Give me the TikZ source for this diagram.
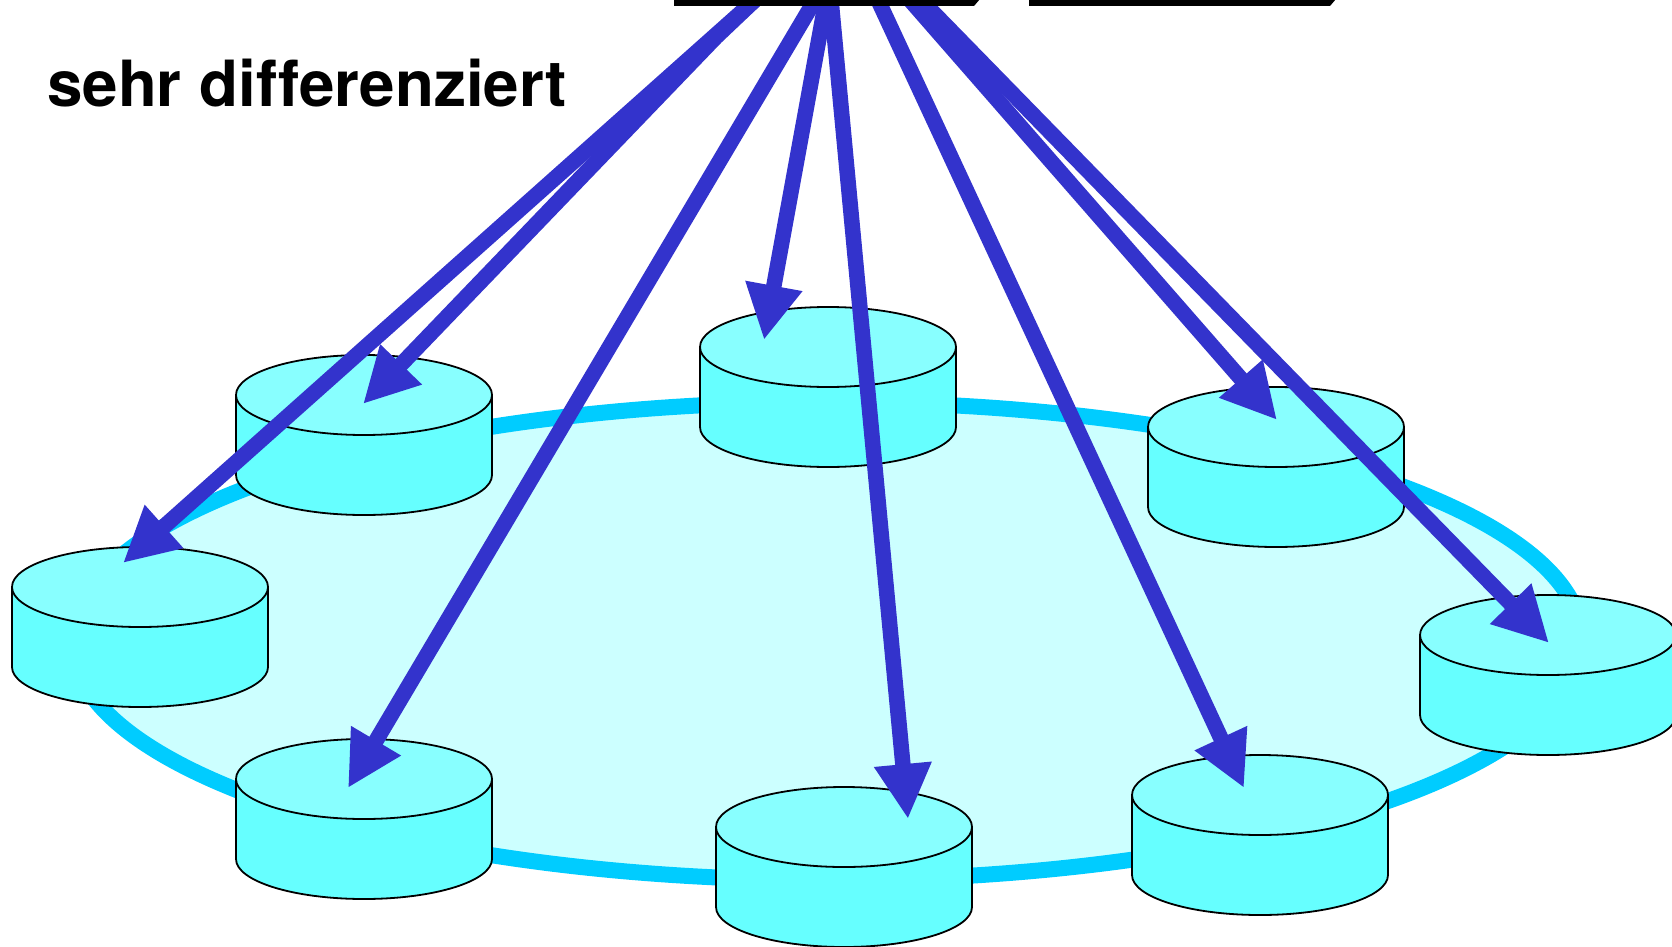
\documentclass[tikz,border=0pt]{standalone}
\usepackage{fontspec}
\setmainfont[Ligatures=NoCommon]{TeX Gyre Heros}
\usepackage{tikz}
\usetikzlibrary{arrows.meta}

\definecolor{ringblue}{HTML}{00CCFF}
\definecolor{ringfill}{HTML}{CCFFFF}
\definecolor{diskside}{HTML}{66FFFF}
\definecolor{disktop}{HTML}{88FFFF}
\definecolor{feedblue}{HTML}{3333CC}

\tikzset{
  ring/.style = { draw = ringblue, fill = ringfill, line width = 16pt },
  feed/.style = { draw = feedblue, line width = 15.5pt, -{Triangle[length = 55pt, width = 54pt, fill = feedblue]} },
  disk/.pic = {
    \path [draw, fill = diskside, line width = 1.8pt] (-128,0) -- (-128,80)
      arc [start angle = 180, end angle = 0, x radius = 128, y radius = 40] -- (128,0);
    \path [draw, fill = disktop, line width = 1.8pt] (0,0) ellipse [x radius = 128, y radius = 40];
  }
}

\begin{document}
\begin{tikzpicture}[x = 1pt, y = -1pt]
    \useasboundingbox (0,0) rectangle (1672,947);
    \clip (0,0) rectangle (1672,947);

    \path [ring] (827,641) ellipse [x radius = 755, y radius = 239];

    % disks on the ring
    \foreach \x/\y in {364/395, 828/347, 1276/427, 1548/635, 1260/795, 844/827, 364/779, 140/587}
      \pic at (\x,\y) {disk};

    % upper ends and arrow tips
    \foreach \cname/\x/\y in {topa/755/0, topb/755/0, topc/815/0, topd/826/0, tope/831/0, topf/878/0, topg/910/0, toph/921/0,
        bendb/716/37, tipa/123/563, tipb/363/404, tipc/348/788, tipd/764/340, tipe/908/819, tipf/1244/788, tipg/1277/420, tiph/1549/643}
      \coordinate (\cname) at (\x,\y);

    \foreach \from/\to in {topa/tipa, topc/tipc, topd/tipd, tope/tipe, topf/tipf, topg/tipg, toph/tiph}
      \draw [feed] (\from) -- (\to);
    \draw [feed] (topb) -- (bendb) -- (tipb);

    % black bars at the top edge
    \fill (674,-1) -- (674,6) -- (974,6) -- (980,-1) -- cycle;
    \fill (1029,-1) -- (1029,6) -- (1330,6) -- (1336,-1) -- cycle;

    \node (title) [anchor = base west, inner sep = 0pt, font = \fontsize{63.7}{64}\selectfont\bfseries] at (47,107) {sehr differenziert};
\end{tikzpicture}
\end{document}
